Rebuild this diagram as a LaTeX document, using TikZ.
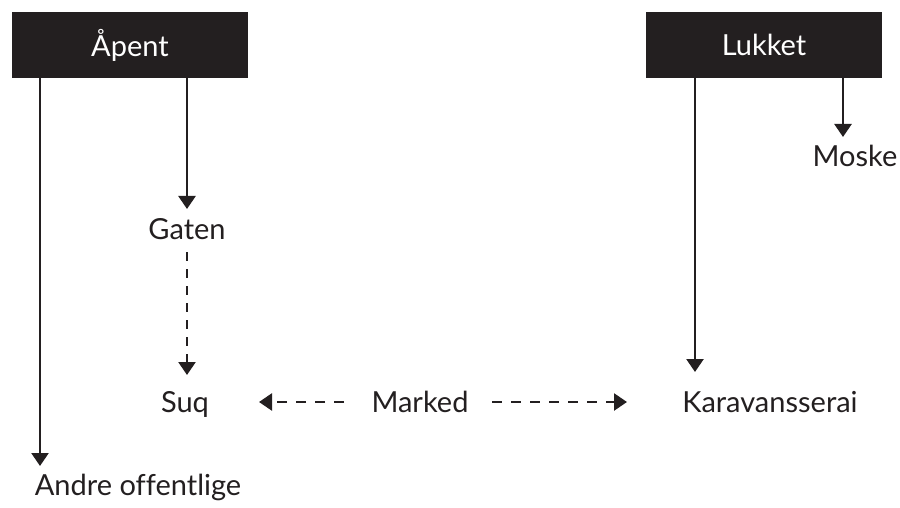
\documentclass[tikz,border=0pt]{standalone}
\usepackage{fontspec}
\setmainfont[Ligatures=NoCommon]{Lato}
\usetikzlibrary{arrows.meta}
\definecolor{ink}{HTML}{231F20}
\begin{document}
\begin{tikzpicture}[x=1pt,y=-1pt,
  lbl/.style={font=\fontsize{29}{34}\selectfont, text=ink, inner sep=0pt, anchor=base},
  hdr/.style={fill=ink, draw=none, minimum width=236pt, minimum height=66pt, inner sep=0pt, text=white, font=\fontsize{29}{34}\selectfont},
  arr/.style={draw=ink, line width=2.5pt, -{Triangle[length=13pt,width=17pt]}},
  dsh/.style={arr, dash pattern=on 10pt off 9pt},
  vdsh/.style={arr, dash pattern=on 9pt off 8pt}]
\useasboundingbox (0,0) rectangle (900,508);
\node[hdr] (apent) at (130,45) {Åpent};
\node[hdr] (lukket) at (764,45) {Lukket};
\node[lbl] (gaten) at (187,240) {Gaten};
\node[lbl] (suq) at (185,412) {Suq};
\node[lbl] (marked) at (420,412) {Marked};
\node[lbl] (karav) at (770,412) {Karavansserai};
\node[lbl] (moske) at (855,167) {Moske};
\node[lbl] (andre) at (138,495) {Andre offentlige};
\coordinate (tandre) at (40,466);
\coordinate (tgaten) at (187,209);
\coordinate (sgaten) at (187,252);
\coordinate (tsuq) at (187,375);
\coordinate (mleft) at (344,402);
\coordinate (tsuqh) at (259,402);
\coordinate (mright) at (492,402);
\coordinate (tkarh) at (627,402);
\coordinate (tkar) at (695,372);
\coordinate (tmoske) at (843,137);
\draw[arr] (apent.south -| tandre) -- (tandre);
\draw[arr] (apent.south -| tgaten) -- (tgaten);
\draw[vdsh] (sgaten) -- (tsuq);
\draw[dsh] (mleft) -- (tsuqh);
\draw[dsh] (mright) -- (tkarh);
\draw[arr] (lukket.south -| tkar) -- (tkar);
\draw[arr] (lukket.south -| tmoske) -- (tmoske);
\end{tikzpicture}
\end{document}
